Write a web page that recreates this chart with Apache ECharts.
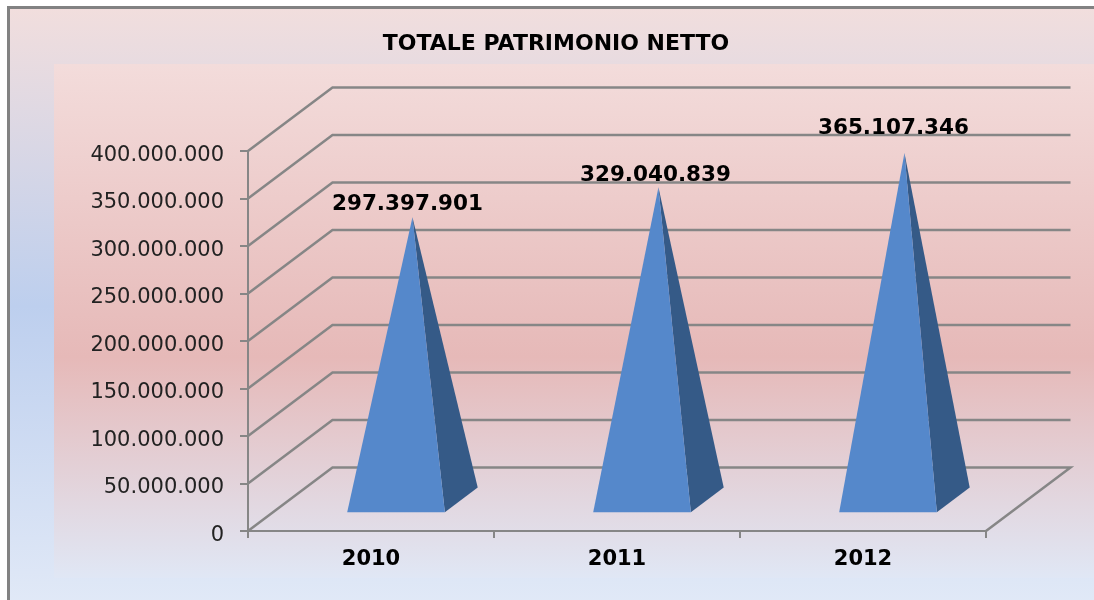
<!DOCTYPE html>
<html>
<head>
<meta charset="utf-8">
<title>Totale patrimonio netto</title>
<script src="https://cdn.jsdelivr.net/npm/echarts@6/dist/echarts.min.js"></script>
<style>
  html, body { margin: 0; padding: 0; background: #fff; }
  #main { width: 1094px; height: 600px; }
</style>
</head>
<body>
<div id="main"></div>
<script>
var years = ['2010', '2011', '2012'];
var patrimonio = [297397901, 329040839, 365107346];
var yTicks = [0, 50000000, 100000000, 150000000, 200000000, 250000000, 300000000, 350000000, 400000000];

// fake 3d: how far the back wall sits from the front plane
var depthX = 84.5, depthY = -63.5;
// pyramid base as fractions of the band / of the depth
var baseWidth = 0.397, baseFront = 0.296, baseBack = 0.685;
var labelNudge = [[-5, -13], [-3, -12], [-11, -25]];

var lineGrey = '#868686';
var font = '"DejaVu Sans", Verdana, sans-serif';

function dotted(v) {
  return String(v).replace(/\B(?=(\d{3})+(?!\d))/g, '.');
}

var chart = echarts.init(document.getElementById('main'));

function renderWall(params, api) {
  var p = api.coord([0, api.value(0)]);
  var band = api.size([1, 0])[0];
  var left = p[0] - band / 2;
  var right = left + band * years.length;
  var pts = [[left, p[1]], [left + depthX, p[1] + depthY], [right + depthX, p[1] + depthY]];
  if (params.dataIndex === 0) {
    // floor closes on the right side too
    pts.push([right, p[1]]);
  }
  return {
    type: 'polyline',
    shape: { points: pts },
    style: { stroke: lineGrey, lineWidth: 2.5, fill: null }
  };
}

function renderPyramid(params, api) {
  var idx = api.value(0);
  var val = api.value(1);
  var band = api.size([1, 0])[0];
  var base = api.coord([idx, 0]);
  var top = api.coord([idx, val]);
  var half = band * baseWidth / 2;
  var fl = [base[0] - half + depthX * baseFront, base[1] + depthY * baseFront];
  var fr = [base[0] + half + depthX * baseFront, fl[1]];
  var br = [base[0] + half + depthX * baseBack, base[1] + depthY * baseBack];
  var mid = (baseFront + baseBack) / 2;
  var apex = [top[0] + depthX * mid, top[1] + depthY * mid];
  return {
    type: 'group',
    children: [
      { type: 'polygon', shape: { points: [fr, br, apex] }, style: { fill: '#355a87' } },
      { type: 'polygon', shape: { points: [fl, fr, apex] }, style: { fill: '#5588cb' } },
      {
        type: 'text',
        style: {
          text: dotted(val),
          x: apex[0] + labelNudge[params.dataIndex][0],
          y: apex[1] + labelNudge[params.dataIndex][1],
          align: 'center',
          verticalAlign: 'middle',
          font: 'bold 21.5px ' + font,
          fill: '#000'
        }
      }
    ]
  };
}

chart.setOption({
  animation: false,
  backgroundColor: '#fff',
  title: {
    text: 'TOTALE PATRIMONIO NETTO',
    left: 551,
    top: 28,
    textAlign: 'center',
    textStyle: { color: '#000', fontFamily: font, fontSize: 22, fontWeight: 'bold' }
  },
  graphic: [
    {
      type: 'rect', z: -10, silent: true,
      shape: { x: 8.5, y: 7.5, width: 1090, height: 597 },
      style: {
        stroke: '#828282', lineWidth: 3,
        fill: new echarts.graphic.LinearGradient(0, 0, 0, 1, [
          { offset: 0, color: '#f2dedd' },
          { offset: 0.5, color: '#bdcfee' },
          { offset: 1, color: '#e1e9f7' }
        ])
      }
    },
    {
      type: 'rect', z: -9, silent: true,
      shape: { x: 54, y: 64, width: 1040, height: 514 },
      style: {
        fill: new echarts.graphic.LinearGradient(0, 0, 0, 1, [
          { offset: 0, color: '#f3dcdb' },
          { offset: 0.57, color: '#e6b9b8' },
          { offset: 1, color: '#e0e7f5' }
        ])
      }
    }
  ],
  grid: { left: 248, right: 108, top: 151, height: 380 },
  xAxis: {
    type: 'category',
    data: years,
    axisLine: { lineStyle: { color: lineGrey, width: 2 } },
    axisTick: { show: true, length: 7, lineStyle: { color: lineGrey, width: 2 } },
    axisLabel: { margin: 18, color: '#000', fontFamily: font, fontSize: 21, fontWeight: 'bold' }
  },
  yAxis: {
    type: 'value',
    min: 0,
    max: 400000000,
    interval: 50000000,
    axisLine: { show: true, lineStyle: { color: lineGrey, width: 2 } },
    axisTick: { show: true, length: 8, lineStyle: { color: lineGrey, width: 2 } },
    // labels sit a little under their tick in the original
    axisLabel: { margin: 24, verticalAlign: 'top', lineHeight: 9, color: '#222', fontFamily: font, fontSize: 21, formatter: dotted },
    splitLine: { show: false }
  },
  series: [
    {
      type: 'custom',
      z: 1,
      clip: false,
      silent: true,
      renderItem: renderWall,
      encode: { y: 0 },
      data: yTicks.map(function (v) { return [v]; })
    },
    {
      type: 'custom',
      z: 3,
      clip: false,
      silent: true,
      renderItem: renderPyramid,
      encode: { x: 0, y: 1 },
      data: patrimonio.map(function (v, i) { return [i, v]; })
    }
  ]
});
</script>
</body>
</html>
